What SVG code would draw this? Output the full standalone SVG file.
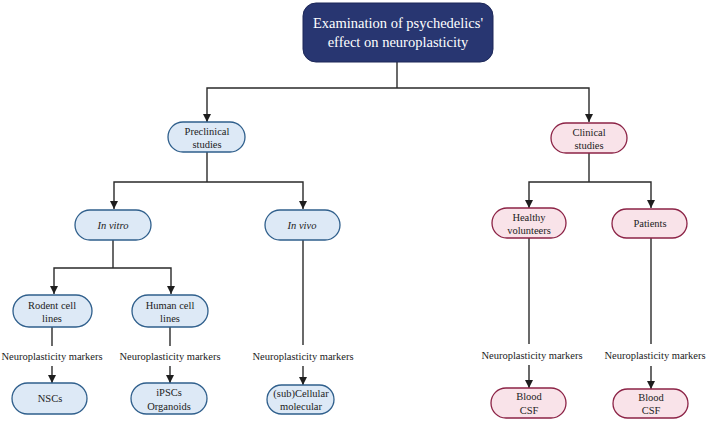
<svg xmlns="http://www.w3.org/2000/svg" width="708" height="421" viewBox="0 0 708 421" font-family="'Liberation Serif', 'DejaVu Serif', serif">
<style>
text{font-family:"Liberation Serif","DejaVu Serif",serif;font-size:10.5px;fill:#222;text-anchor:middle}
.t{fill:#fff;font-size:14.5px}
.b{fill:#dde9f6;stroke:#2f5f8c;stroke-width:1.3}
.p{fill:#f9e3e9;stroke:#8c2346;stroke-width:1.3}
.c line,.c polyline{stroke:#2a2a2a;stroke-width:1.4;fill:none}
.i{font-style:italic}
</style>
<defs>
<marker id="ah" markerUnits="userSpaceOnUse" markerWidth="8" markerHeight="8" refX="8" refY="4" orient="auto-start-reverse" viewBox="0 0 8 8">
<path d="M0,0 L8,4 L0,8 Z" fill="#1e1e1e"/>
</marker>
</defs>
<rect width="708" height="421" fill="#fff"/>
<g class="c" id="connectors">
<line x1="397" y1="62" x2="397" y2="88"/>
<polyline points="207,122 207,88 589,88 589,122" marker-start="url(#ah)" marker-end="url(#ah)"/>
<line x1="207" y1="152" x2="207" y2="182"/>
<polyline points="114,209 114,182 303,182 303,209" marker-start="url(#ah)" marker-end="url(#ah)"/>
<line x1="113" y1="240" x2="113" y2="268"/>
<polyline points="54,294 54,268 171,268 171,294" marker-start="url(#ah)" marker-end="url(#ah)"/>
<line x1="589" y1="153" x2="589" y2="182"/>
<polyline points="529,208 529,182 651,182 651,208" marker-start="url(#ah)" marker-end="url(#ah)"/>
<line x1="52" y1="327" x2="52" y2="346"/>
<line x1="52" y1="366" x2="52" y2="383" marker-end="url(#ah)"/>
<line x1="170" y1="327" x2="170" y2="346"/>
<line x1="170" y1="366" x2="170" y2="383" marker-end="url(#ah)"/>
<line x1="303" y1="240" x2="303" y2="345"/>
<line x1="303" y1="366" x2="303" y2="385" marker-end="url(#ah)"/>
<line x1="529" y1="238" x2="529" y2="344"/>
<line x1="529" y1="365" x2="529" y2="388" marker-end="url(#ah)"/>
<line x1="651" y1="238" x2="651" y2="344"/>
<line x1="651" y1="366" x2="651" y2="389" marker-end="url(#ah)"/>
</g>
<g id="title"><rect x="303" y="3" width="190" height="59" rx="13" fill="#283671" stroke="#1c2758" stroke-width="1"/>
<text class="t" x="398" y="28">Examination of psychedelics'</text>
<text class="t" x="398" y="47">effect on neuroplasticity</text></g>
<g id="preclinical"><rect class="b" x="168" y="122" width="77" height="30" rx="15"/>
<text x="207" y="135">Preclinical</text><text x="207" y="148">studies</text></g>
<g id="clinical"><rect class="p" x="551" y="123" width="76" height="30" rx="15"/>
<text x="589" y="136">Clinical</text><text x="589" y="149">studies</text></g>
<g id="invitro"><rect class="b" x="75" y="210" width="76" height="30" rx="15"/>
<text class="i" x="113" y="229">In vitro</text></g>
<g id="invivo"><rect class="b" x="265" y="210" width="75" height="30" rx="15"/>
<text class="i" x="302" y="229">In vivo</text></g>
<g id="healthy"><rect class="p" x="492" y="208" width="74" height="30" rx="15"/>
<text x="529" y="221">Healthy</text><text x="529" y="234">volunteers</text></g>
<g id="patients"><rect class="p" x="612" y="209" width="75" height="29" rx="14.5"/>
<text x="650" y="227">Patients</text></g>
<g id="rodent"><rect class="b" x="13" y="295" width="79" height="32" rx="16"/>
<text x="52" y="309">Rodent cell</text><text x="52" y="322">lines</text></g>
<g id="human"><rect class="b" x="132" y="295" width="76" height="32" rx="16"/>
<text x="170" y="309">Human cell</text><text x="170" y="322">lines</text></g>
<g id="labels">
<text x="52" y="360">Neuroplasticity markers</text>
<text x="170" y="360">Neuroplasticity markers</text>
<text x="303" y="360">Neuroplasticity markers</text>
<text x="532" y="359">Neuroplasticity markers</text>
<text x="655" y="359">Neuroplasticity markers</text>
</g>
<g id="nscs"><rect class="b" x="12" y="383" width="75" height="31" rx="15.5"/>
<text x="50" y="402">NSCs</text></g>
<g id="ipscs"><rect class="b" x="131" y="383" width="76" height="31" rx="15.5"/>
<text x="169" y="396">iPSCs</text><text x="169" y="410">Organoids</text></g>
<g id="subcellular"><rect class="b" x="267" y="385" width="67" height="29" rx="14.5"/>
<text x="301" y="397">(sub)Cellular</text><text x="301" y="410">molecular</text></g>
<g id="blood1"><rect class="p" x="491" y="388" width="75" height="30" rx="15"/>
<text x="529" y="400">Blood</text><text x="529" y="414">CSF</text></g>
<g id="blood2"><rect class="p" x="613" y="389" width="75" height="29" rx="14.5"/>
<text x="651" y="401">Blood</text><text x="651" y="414">CSF</text></g>
</svg>
